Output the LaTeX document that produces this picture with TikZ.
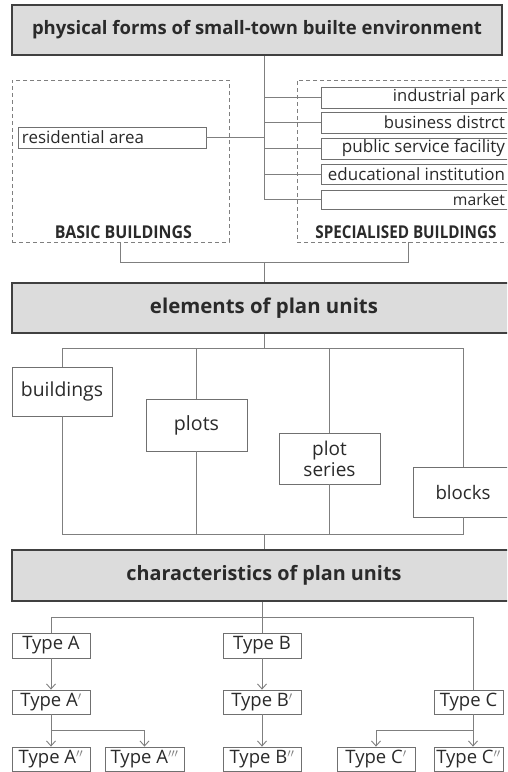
\documentclass[tikz,border=0pt]{standalone}
\usepackage{fontspec}
\setmainfont{Open Sans}
\usetikzlibrary{arrows.meta}
\definecolor{ln}{HTML}{7F7F7F}
\definecolor{bd}{HTML}{707070}
\definecolor{hd}{HTML}{DCDCDC}
\definecolor{hb}{HTML}{404040}
\definecolor{tx}{HTML}{2A2A2A}
\newcommand\fw[2]{\resizebox{#1pt}{!}{#2}}
\newcommand\fwh[3]{\resizebox{#1pt}{#2pt}{#3}}
\newcommand\pr[1]{\textcolor{ln}{$^{#1}$}}
\begin{document}
\begin{tikzpicture}[x=1pt,y=-1pt,
  header/.style={draw=hb, line width=1.6pt, fill=hd, inner sep=0pt, text=tx, font=\bfseries},
  box/.style={draw=bd, line width=0.8pt, fill=white, inner sep=0pt, text=tx},
  dbox/.style={draw=ln, dash pattern=on 4pt off 3pt, line width=0.8pt, inner sep=0pt},
  conn/.style={draw=ln, line width=0.9pt},
  arr/.style={conn, -{Straight Barb[length=5pt,width=9pt]}},
  lab/.style={inner sep=0pt, text=tx, font=\bfseries},
  tbox/.style={box, minimum width=78, minimum height=24, font=\fontsize{18.5}{20}\selectfont}]
\clip (0,0) rectangle (507,772);
\fill[white] (0,0) rectangle (507,772);

% ---------- header 1 ----------
\node[header, minimum width=490, minimum height=50] (h1) at (257,30)
  {\fw{450}{physical forms of small-town builte environment}};

% dashed groups
\node[dbox, minimum width=217, minimum height=162] (basic) at (120.5,161) {};
\node[dbox, minimum width=223, minimum height=162] (spec) at (408.5,161) {};
\node[lab] (basiclab) at (123.5,232) {\fwh{137}{12.8}{BASIC BUILDINGS}};
\node[lab] (speclab) at (406,232) {\fwh{181}{12.8}{SPECIALISED BUILDINGS}};

\node[box, minimum width=188, minimum height=21] (res) at (112,137.5)
  {\makebox[180pt][l]{\fw{122}{residential area}}};

\node[box, minimum width=200, minimum height=21] (ind) at (421,97.5)
  {\makebox[168pt][r]{\fw{112}{industrial park}}};
\node[box, minimum width=200, minimum height=21] (bus) at (421,122.5)
  {\makebox[168pt][r]{\fw{121}{business distrct}}};
\node[box, minimum width=200, minimum height=21] (pub) at (421,148.5)
  {\makebox[168pt][r]{\fw{163}{public service facility}}};
\node[box, minimum width=200, minimum height=20] (edu) at (421,174)
  {\makebox[168pt][r]{\fw{177}{educational institution}}};
\node[box, minimum width=200, minimum height=19] (mkt) at (421,199.5)
  {\makebox[168pt][r]{\fw{52}{market}}};

\coordinate (t1) at (264,0);
\draw[conn] (h1.south -| t1) -- (t1 |- mkt.west);
\foreach \n in {ind,bus,pub,edu,mkt}{
  \draw[conn] (t1 |- \n.west) -- (\n.west);
}
\draw[conn] (res.east) -- (res.east -| t1);

% ---------- header 2 ----------
\node[header, minimum width=504, minimum height=50] (h2) at (264,308)
  {\fw{228}{elements of plan units}};
\coordinate (j1) at (264,262);
\draw[conn] (basic.south) |- (spec.south |- j1) -- (spec.south);
\draw[conn] (j1) -- (h2.north);

% elements
\node[box, minimum width=100, minimum height=49] (bld) at (62,391.5) {\fw{82}{buildings}};
\node[box, minimum width=101, minimum height=52] (plt) at (196.5,425) {\fw{45}{plots}};
\node[box, minimum width=101, minimum height=51, align=center, font=\fontsize{19}{21}\selectfont] (ps) at (329.5,458.5)
  {plot\\series};
\node[box, minimum width=100, minimum height=50] (blk) at (463,492) {\fw{55}{blocks}};

\coordinate (j2) at (264,348);
\draw[conn] (h2.south) -- (j2);
\draw[conn] (bld.north) |- (blk.north |- j2) -- (blk.north);
\draw[conn] (plt.north) -- (plt.north |- j2);
\draw[conn] (ps.north) -- (ps.north |- j2);

\coordinate (j3) at (264,534);
\draw[conn] (bld.south) |- (blk.south |- j3) -- (blk.south);
\draw[conn] (plt.south) -- (plt.south |- j3);
\draw[conn] (ps.south) -- (ps.south |- j3);

% ---------- header 3 ----------
\node[header, minimum width=504, minimum height=51] (h3) at (264,575.5)
  {\fw{275}{characteristics of plan units}};
\draw[conn] (j3) -- (h3.north);

% types
\node[tbox, minimum height=25] (ta) at (51,645.5) {Type A};
\node[tbox, minimum height=25] (tb) at (262,645.5) {Type B};
\node[tbox] (ta1) at (51,702) {Type A\pr{\prime}};
\node[tbox] (tb1) at (262,702) {Type B\pr{\prime}};
\node[tbox, minimum width=69] (tc) at (468.5,702) {Type C};
\node[tbox] (ta2) at (51,759) {Type A\pr{\prime\prime}};
\node[tbox, minimum width=79] (ta3) at (144.5,759) {Type A\pr{\prime\prime\prime}};
\node[tbox] (tb2) at (262,759) {Type B\pr{\prime\prime}};
\node[tbox] (tc1) at (376,759) {Type C\pr{\prime}};
\node[tbox, minimum width=69] (tc2) at (468.5,759) {Type C\pr{\prime\prime}};

\coordinate (j4) at (473,617);
\coordinate (ja) at (0,730);
\draw[conn] (h3.south -| tb.north) -- (tb.north);
\draw[conn] (ta.north) |- (j4) -- (tc.north -| j4);
\draw[arr] (ta.south) -- (ta1.north);
\draw[arr] (tb.south) -- (tb1.north);
\draw[arr] (ta1.south) -- (ta2.north);
\draw[arr] (ta1.south) |- (ta3.north |- ja) -- (ta3.north);
\draw[arr] (tb1.south) -- (tb2.north);
\draw[arr] (tc.south -| j4) -- (tc2.north -| j4);
\draw[arr] (tc.south -| j4) |- (tc1.north |- ja) -- (tc1.north);
\end{tikzpicture}
\end{document}
